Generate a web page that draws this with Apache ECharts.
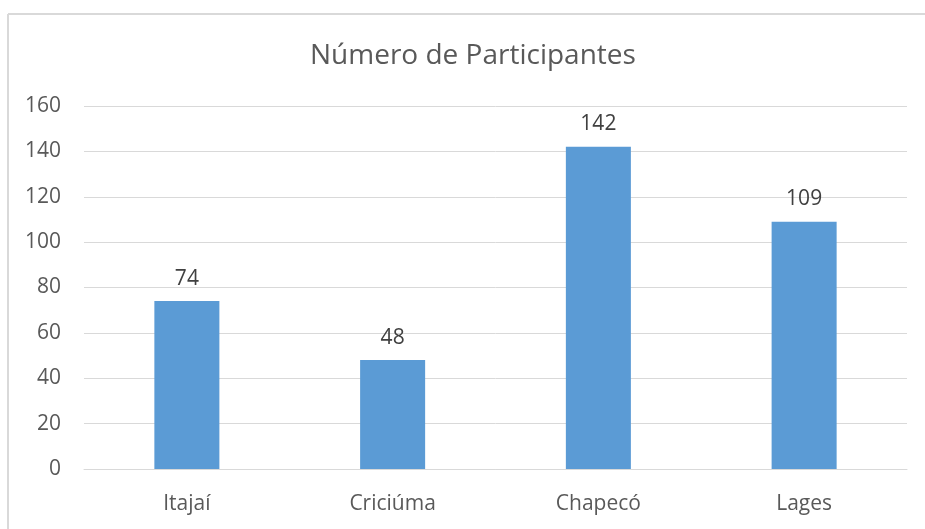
<!DOCTYPE html>
<html>
<head>
<meta charset="utf-8">
<script src="https://cdn.jsdelivr.net/npm/echarts@6/dist/echarts.min.js"></script>
<style>
html,body{margin:0;padding:0;background:#fff;}
#chart{width:925px;height:529px;}
</style>
</head>
<body>
<div id="chart"></div>
<script>
const titleText = 'Número de Participantes';
const categories = ['Itajaí', 'Criciúma', 'Chapecó', 'Lages'];
const participants = [74, 48, 142, 109];
const yTicks = [0, 20, 40, 60, 80, 100, 120, 140, 160];

const chart = echarts.init(document.getElementById('chart'), null, {renderer: 'canvas'});
const font = '"Open Sans", "Noto Sans", sans-serif';
chart.setOption({
  animation: false,
  backgroundColor: '#ffffff',
  graphic: [
    {type: 'line', shape: {x1: 8, y1: 14, x2: 1000, y2: 14}, style: {stroke: '#d9d9d9', lineWidth: 2}, silent: true},
    {type: 'line', shape: {x1: 8, y1: 14, x2: 8, y2: 600}, style: {stroke: '#d9d9d9', lineWidth: 2}, silent: true}
  ],
  title: {
    text: titleText,
    left: 305,
    top: 37,
    textStyle: {fontFamily: font, fontSize: 28, fontWeight: 'normal', color: '#595959'}
  },
  grid: {left: 84, right: 18, top: 106, bottom: 60, containLabel: false},
  xAxis: {
    type: 'category',
    data: categories,
    axisLine: {show: true, lineStyle: {color: '#d9d9d9', width: 1}},
    axisTick: {show: false},
    axisLabel: {fontFamily: font, fontSize: 21, color: '#595959', margin: 25}
  },
  yAxis: {
    type: 'value',
    min: yTicks[0],
    max: yTicks[yTicks.length - 1],
    interval: yTicks[1] - yTicks[0],
    axisLine: {show: false},
    axisTick: {show: false},
    splitLine: {lineStyle: {color: '#d9d9d9', width: 1}},
    axisLabel: {fontFamily: font, fontSize: 21, color: '#595959', margin: 23}
  },
  series: [{
    type: 'bar',
    data: participants,
    barWidth: '31.6%',
    itemStyle: {color: '#5b9bd5'},
    label: {
      show: true,
      position: 'top',
      distance: 12,
      fontFamily: font,
      fontSize: 21,
      color: '#404040'
    }
  }]
});
</script>
</body>
</html>
